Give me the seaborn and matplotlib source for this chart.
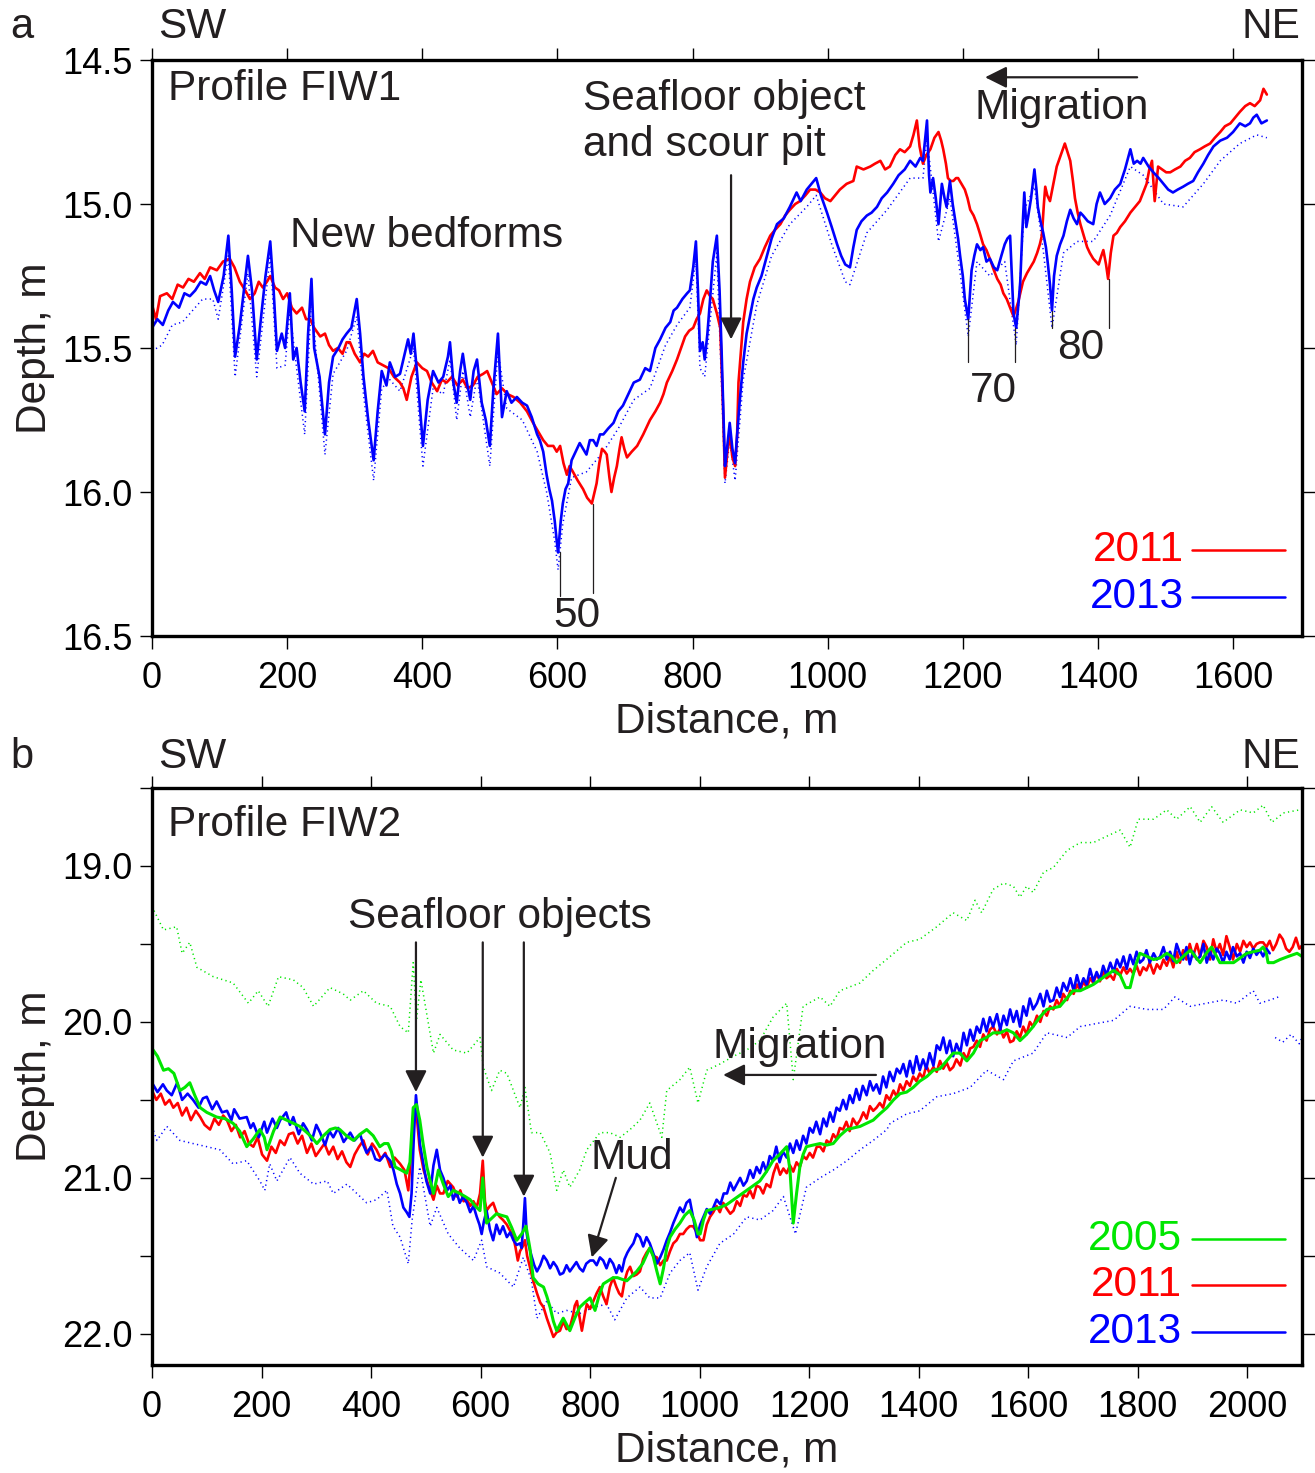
import numpy as np
import matplotlib
matplotlib.use("Agg")
import matplotlib.pyplot as plt
import seaborn as sns

# ---------------- DATA ----------------
# Panel a: Profile FIW1 (distance m, depth m)
a_2013 = [(0,15.43),(8,15.40),(16,15.42),(24,15.37),(31,15.34),(40,15.36),(48,15.31),(56,15.32),(64,15.30),(72,15.27),
 (80,15.28),(86,15.25),(92,15.30),(98,15.34),(106,15.25),(113,15.11),(118,15.30),(123,15.53),(130,15.42),(136,15.30),
 (142,15.18),(148,15.30),(155,15.54),(162,15.38),(168,15.25),(175,15.13),(180,15.30),(185,15.51),(192,15.45),(197,15.50),
 (204,15.31),(209,15.54),(214,15.50),(220,15.62),(226,15.72),(231,15.45),(236,15.26),(240,15.50),(248,15.60),(256,15.80),
 (262,15.62),(268,15.53),(276,15.50),(282,15.47),(288,15.45),(295,15.43),(303,15.33),(308,15.45),(313,15.60),(320,15.75),
 (328,15.89),(334,15.72),(340,15.58),(347,15.63),(352,15.55),(360,15.60),(367,15.59),(373,15.53),(379,15.47),(383,15.52),
 (387,15.45),(394,15.63),(401,15.84),(408,15.68),(416,15.58),(424,15.62),(431,15.60),(438,15.53),(441,15.48),(446,15.62),
 (451,15.69),(456,15.58),(460,15.52),(466,15.62),(471,15.68),(476,15.58),(481,15.54),(488,15.69),(494,15.75),(500,15.84),
 (505,15.65),(512,15.45),(518,15.74),(525,15.65),(532,15.69),(540,15.67),(548,15.69),(555,15.70),(562,15.74),(570,15.80),
 (574,15.82),(579,15.86),(584,15.94),(588,15.99),(592,16.03),(596,16.10),(599,16.17),(601,16.21),(605,16.10),(608,16.04),
 (612,15.99),(616,15.97),(621,15.89),(627,15.86),(633,15.83),(638,15.85),(643,15.87),(648,15.82),(653,15.82),(658,15.84),
 (663,15.80),(668,15.80),(675,15.78),(683,15.76),(690,15.72),(697,15.70),(705,15.66),(713,15.62),(722,15.61),(730,15.57),
 (737,15.58),(745,15.50),(752,15.47),(760,15.43),(767,15.41),(772,15.37),(777,15.36),(785,15.33),(792,15.31),(796,15.30),
 (801,15.22),(805,15.13),(808,15.30),(811,15.51),(815,15.48),(818,15.54),(822,15.45),(826,15.33),(830,15.20),(836,15.11),
 (840,15.30),(843,15.51),(846,15.75),(848,15.91),(851,15.85),(855,15.76),(859,15.85),(863,15.90),(866,15.80),(870,15.68),
 (875,15.55),(880,15.45),(885,15.39),(890,15.33),(895,15.29),(902,15.25),(910,15.18),(917,15.12),(925,15.07),(935,15.05),
 (944,15.01),(950,14.98),(954,14.96),(960,14.99),(969,14.95),(976,14.93),(983,14.91),(990,14.97),(999,15.03),(1006,15.08),
 (1014,15.14),(1020,15.18),(1026,15.21),(1033,15.22),(1038,15.15),(1043,15.09),(1050,15.06),(1058,15.04),(1065,15.03),(1073,15.01),
 (1080,14.98),(1088,14.96),(1097,14.93),(1105,14.90),(1114,14.88),(1122,14.85),(1130,14.87),(1137,14.84),(1141,14.85),(1147,14.71),
 (1150,14.90),(1152,14.96),(1156,14.91),(1160,14.98),(1164,15.07),(1169,14.93),(1173,14.98),(1176,15.01),(1181,14.92),(1185,15.00),
 (1189,15.06),(1193,15.12),(1196,15.18),(1200,15.25),(1203,15.33),(1208,15.40),(1213,15.23),(1217,15.18),(1221,15.14),(1226,15.16),
 (1230,15.15),(1235,15.20),(1240,15.19),(1246,15.22),(1251,15.23),(1257,15.18),(1262,15.14),(1266,15.12),(1270,15.11),(1275,15.38),
 (1279,15.43),(1283,15.33),(1285,15.27),(1288,15.10),(1291,14.96),(1294,15.08),(1297,15.04),(1301,14.98),(1306,14.88),(1309,14.95),
 (1311,15.01),(1315,15.06),(1319,15.10),(1323,15.15),(1326,15.21),(1329,15.28),(1332,15.37),(1335,15.25),(1339,15.18),(1344,15.14),
 (1349,15.11),(1354,15.06),(1359,15.02),(1364,15.05),(1369,15.07),(1374,15.03),(1378,15.04),(1385,15.06),(1393,15.07),(1398,15.00),
 (1403,14.96),(1410,15.00),(1418,14.98),(1425,14.95),(1433,14.93),(1440,14.88),(1448,14.81),(1453,14.86),(1458,14.85),(1463,14.86),
 (1467,14.84),(1475,14.87),(1482,14.89),(1490,14.91),(1497,14.93),(1504,14.95),(1511,14.96),(1518,14.95),(1526,14.94),(1533,14.93),
 (1541,14.92),(1548,14.89),(1556,14.86),(1563,14.83),(1571,14.80),(1581,14.78),(1591,14.77),(1600,14.75),(1610,14.72),(1618,14.73),
 (1625,14.72),(1630,14.70),(1635,14.69),(1642,14.72),(1650,14.71)]

a_2011 = [(0,15.35),(6,15.40),(12,15.32),(22,15.31),(30,15.33),(38,15.28),(46,15.29),(54,15.26),(62,15.27),(71,15.24),
 (78,15.26),(86,15.22),(96,15.23),(105,15.20),(115,15.19),(122,15.22),(130,15.27),(138,15.30),(145,15.33),(152,15.31),
 (158,15.27),(164,15.29),(170,15.27),(175,15.25),(182,15.29),(188,15.30),(194,15.33),(200,15.31),(207,15.36),(214,15.38),
 (222,15.36),(228,15.40),(234,15.40),(240,15.43),(249,15.46),(256,15.45),(262,15.49),(268,15.51),(275,15.50),(282,15.52),
 (288,15.48),(293,15.48),(300,15.52),(308,15.55),(314,15.52),(320,15.53),(327,15.51),(334,15.55),(342,15.56),(350,15.57),
 (358,15.60),(367,15.62),(372,15.64),(377,15.68),(384,15.60),(392,15.55),(400,15.57),(407,15.58),(414,15.62),(422,15.65),
 (429,15.61),(436,15.62),(444,15.60),(452,15.63),(460,15.61),(467,15.64),(475,15.63),(482,15.60),(490,15.59),(496,15.58),
 (503,15.62),(510,15.66),(518,15.64),(526,15.66),(535,15.67),(545,15.69),(555,15.72),(564,15.76),(574,15.80),(579,15.82),
 (586,15.84),(594,15.84),(599,15.86),(604,15.84),(609,15.90),(614,15.94),(618,15.91),(623,15.93),(630,15.96),(638,15.99),
 (644,16.02),(651,16.04),(655,16.00),(658,15.97),(662,15.90),(666,15.85),(670,15.86),(673,15.87),(677,15.95),(680,16.00),
 (684,15.95),(688,15.91),(692,15.85),(695,15.81),(699,15.85),(703,15.88),(710,15.86),(718,15.84),(727,15.80),(733,15.77),
 (737,15.75),(745,15.72),(752,15.69),(757,15.66),(762,15.62),(770,15.58),(777,15.54),(783,15.50),(789,15.46),(795,15.44),
 (801,15.43),(806,15.40),(811,15.38),(816,15.33),(821,15.30),(826,15.32),(830,15.33),(836,15.38),(841,15.43),(845,15.70),
 (848,15.95),(852,15.85),(855,15.80),(859,15.88),(863,15.91),(866,15.80),(868,15.62),(872,15.50),(875,15.41),(880,15.33),
 (885,15.27),(892,15.22),(900,15.19),(907,15.15),(915,15.11),(922,15.09),(930,15.07),(937,15.04),(944,15.02),(952,15.00),
 (959,14.99),(967,14.97),(974,14.95),(982,14.95),(989,14.96),(996,14.98),(1004,14.99),(1011,14.97),(1018,14.95),(1028,14.93),
 (1038,14.92),(1043,14.87),(1053,14.88),(1063,14.87),(1070,14.86),(1078,14.85),(1085,14.88),(1092,14.87),(1100,14.83),(1107,14.81),
 (1114,14.82),(1122,14.80),(1127,14.76),(1132,14.71),(1136,14.80),(1141,14.86),(1146,14.83),(1152,14.81),(1158,14.77),(1164,14.75),
 (1168,14.78),(1171,14.81),(1175,14.86),(1178,14.91),(1182,14.92),(1186,14.92),(1190,14.91),(1193,14.91),(1198,14.93),(1203,14.95),
 (1207,14.98),(1211,15.02),(1216,15.04),(1221,15.07),(1225,15.10),(1230,15.14),(1235,15.16),(1240,15.19),(1246,15.23),(1251,15.26),
 (1256,15.28),(1260,15.31),(1265,15.33),(1270,15.36),(1275,15.39),(1278,15.37),(1282,15.34),(1286,15.30),(1289,15.27),(1295,15.24),
 (1300,15.22),(1305,15.20),(1310,15.17),(1314,15.14),(1317,15.11),(1320,15.00),(1322,14.94),(1325,14.97),(1329,14.99),(1334,14.93),
 (1339,14.87),(1345,14.83),(1351,14.79),(1355,14.82),(1359,14.85),(1363,14.92),(1366,14.98),(1370,15.03),(1374,15.07),(1379,15.11),
 (1384,15.15),(1388,15.17),(1393,15.19),(1397,15.20),(1401,15.21),(1405,15.18),(1408,15.16),(1412,15.21),(1415,15.26),(1419,15.17),
 (1423,15.11),(1428,15.10),(1433,15.08),(1440,15.06),(1448,15.03),(1455,15.01),(1462,14.99),(1467,14.96),(1472,14.93),(1476,14.88),
 (1480,14.85),(1484,14.99),(1489,14.87),(1495,14.88),(1501,14.89),(1507,14.89),(1514,14.88),(1522,14.87),(1529,14.85),(1536,14.84),
 (1543,14.82),(1551,14.81),(1558,14.80),(1566,14.79),(1573,14.77),(1581,14.75),(1588,14.73),(1596,14.72),(1603,14.70),(1610,14.68),
 (1618,14.66),(1625,14.65),(1632,14.66),(1640,14.64),(1645,14.60),(1650,14.62)]

a_2013_dotted = [(0,15.51),(15,15.49),(30,15.42),(45,15.41),(60,15.37),(75,15.33),(90,15.33),(98,15.40),(113,15.18),(123,15.60),
 (142,15.24),(155,15.60),(175,15.18),(185,15.57),(197,15.56),(204,15.37),(214,15.57),(226,15.80),(236,15.33),(256,15.87),
 (268,15.59),(288,15.51),(303,15.39),(313,15.66),(328,15.96),(340,15.64),(352,15.61),(367,15.65),(387,15.50),(401,15.91),
 (416,15.64),(431,15.66),(441,15.54),(451,15.75),(460,15.58),(471,15.74),(481,15.60),(500,15.91),(512,15.51),(525,15.71),
 (548,15.75),(570,15.86),(584,16.00),(596,16.17),(601,16.27),(608,16.11),(621,15.95),(643,15.93),(668,15.86),(690,15.78),
 (713,15.68),(737,15.64),(760,15.49),(777,15.42),(796,15.36),(805,15.19),(811,15.57),(818,15.60),(836,15.17),(848,15.97),
 (855,15.82),(863,15.96),(875,15.61),(895,15.35),(917,15.18),(944,15.07),(969,15.01),(983,14.97),(1006,15.14),(1026,15.27),
 (1033,15.28),(1058,15.10),(1088,15.02),(1122,14.91),(1141,14.91),(1147,14.77),(1164,15.13),(1181,14.98),(1196,15.24),(1208,15.46),
 (1221,15.20),(1240,15.25),(1262,15.20),(1279,15.49),(1291,15.02),(1306,14.94),(1319,15.16),(1332,15.43),(1349,15.17),(1369,15.13),
 (1393,15.13),(1418,15.04),(1448,14.87),(1467,14.90),(1497,15.00),(1526,15.01),(1556,14.93),(1581,14.85),(1610,14.79),(1635,14.76),
 (1650,14.77)]

# marker ticks (distance, top depth, bottom depth) and labels
a_markers = [(604,16.21,16.36),(653,16.04,16.35),(1208,15.40,15.55),(1277,15.43,15.55),(1332,15.37,15.43),(1416,15.26,15.43)]
a_marker_labels = [("50",629,16.43),("70",1245,15.65),("80",1374,15.50)]

# Panel b: Profile FIW2
b_2013 = [(0,20.39),(10,20.45),(20,20.40),(27,20.44),(36,20.47),(46,20.39),(55,20.50),(65,20.46),(75,20.50),(85,20.55),
 (93,20.49),(100,20.48),(110,20.56),(118,20.51),(128,20.58),(137,20.57),(145,20.63),(150,20.56),(160,20.62),(173,20.61),
 (180,20.68),(185,20.65),(195,20.74),(205,20.64),(210,20.71),(220,20.62),(228,20.68),(234,20.63),(245,20.58),(252,20.66),
 (258,20.61),(268,20.72),(276,20.65),(283,20.69),(292,20.76),(300,20.66),(307,20.71),(316,20.79),(324,20.70),(331,20.74),
 (340,20.68),(350,20.77),(362,20.71),(370,20.76),(380,20.72),(386,20.79),(392,20.84),(400,20.80),(408,20.88),(416,20.89),
 (425,20.85),(435,20.89),(441,20.95),(447,21.04),(453,21.10),(459,21.19),(465,21.22),(470,21.25),(474,21.10),(478,20.75),
 (482,20.47),(486,20.62),(489,20.78),(495,20.90),(501,21.02),(508,21.10),(514,20.92),(520,20.82),(526,20.95),(532,21.00),
 (539,21.08),(545,21.05),(550,21.14),(556,21.09),(562,21.16),(568,21.12),(575,21.16),(581,21.22),(587,21.18),(593,21.25),
 (598,21.30),(602,21.36),(606,21.28),(611,21.21),(617,21.33),(623,21.40),(629,21.30),(635,21.36),(641,21.31),(648,21.38),
 (654,21.35),(660,21.40),(666,21.43),(672,21.42),(675,21.45),(678,21.30),(681,21.13),(684,21.35),(687,21.42),(693,21.50),
 (698,21.56),(703,21.60),(709,21.56),(715,21.50),(721,21.53),(727,21.58),(733,21.54),(739,21.57),(745,21.62),(751,21.61),
 (757,21.56),(763,21.60),(769,21.57),(775,21.54),(781,21.58),(787,21.60),(793,21.55),(800,21.53),(806,21.53),(812,21.56),
 (818,21.51),(824,21.53),(830,21.58),(836,21.52),(842,21.55),(848,21.61),(853,21.56),(858,21.60),(863,21.52),(868,21.48),
 (873,21.45),(879,21.42),(885,21.36),(891,21.38),(897,21.44),(903,21.38),(909,21.42),(915,21.48),(922,21.55),(928,21.51),
 (934,21.46),(940,21.40),(946,21.35),(952,21.29),(958,21.24),(964,21.19),(970,21.22),(976,21.16),(982,21.14),(988,21.25),
 (995,21.38),(1001,21.30),(1007,21.25),(1013,21.20),(1019,21.23),(1025,21.19),(1031,21.14),(1038,21.17),(1044,21.10),(1050,21.10),
 (1056,21.03),(1062,21.08),(1068,21.04),(1074,21.00),(1080,21.05),(1086,21.02),(1092,20.95),(1098,21.00),(1104,20.93),(1110,20.97),
 (1116,20.90),(1122,20.96),(1128,20.86),(1134,20.89),(1140,20.80),(1146,20.90),(1152,20.83),(1159,20.87),(1165,20.78),(1171,20.84),
 (1177,20.76),(1183,20.82),(1189,20.73),(1195,20.78),(1201,20.68),(1207,20.71),(1213,20.64),(1220,20.72),(1226,20.62),(1232,20.67),
 (1238,20.58),(1244,20.64),(1250,20.55),(1256,20.57),(1262,20.50),(1268,20.56),(1274,20.47),(1280,20.52),(1286,20.43),(1292,20.50),
 (1298,20.41),(1305,20.47),(1311,20.38),(1317,20.44),(1323,20.40),(1329,20.46),(1335,20.35),(1341,20.42),(1347,20.32),(1354,20.38),
 (1360,20.30),(1366,20.33),(1372,20.27),(1378,20.35),(1384,20.25),(1390,20.33),(1396,20.22),(1402,20.31),(1408,20.24),(1414,20.30),
 (1420,20.20),(1427,20.28),(1433,20.15),(1439,20.18),(1445,20.10),(1451,20.20),(1457,20.12),(1463,20.22),(1469,20.14),(1476,20.20),
 (1482,20.07),(1488,20.15),(1494,20.05),(1500,20.12),(1506,20.03),(1512,20.07),(1518,19.98),(1524,20.06),(1530,19.97),(1536,20.03),
 (1543,19.95),(1549,20.05),(1555,19.96),(1561,20.02),(1567,19.92),(1573,20.00),(1579,19.93),(1585,20.03),(1591,19.90),(1597,19.96),
 (1603,19.85),(1609,19.92),(1616,19.88),(1622,19.82),(1628,19.90),(1634,19.80),(1640,19.87),(1646,19.86),(1652,19.78),(1658,19.84),
 (1664,19.75),(1671,19.80),(1677,19.72),(1683,19.80),(1689,19.70),(1695,19.78),(1701,19.72),(1707,19.76),(1713,19.66),(1719,19.74),
 (1725,19.68),(1731,19.73),(1737,19.64),(1743,19.70),(1750,19.62),(1756,19.68),(1762,19.60),(1768,19.65),(1774,19.58),(1780,19.66),
 (1786,19.57),(1792,19.63),(1798,19.55),(1804,19.62),(1810,19.60),(1816,19.54),(1822,19.62),(1829,19.56),(1835,19.60),(1841,19.58),
 (1847,19.52),(1853,19.60),(1859,19.55),(1865,19.61),(1871,19.50),(1877,19.56),(1883,19.60),(1889,19.52),(1895,19.63),(1901,19.55),
 (1908,19.60),(1914,19.58),(1920,19.50),(1926,19.62),(1932,19.55),(1938,19.60),(1944,19.53),(1950,19.56),(1956,19.62),(1962,19.55),
 (1968,19.60),(1974,19.52),(1981,19.58),(1987,19.56),(1993,19.62),(1999,19.55),(2005,19.59),(2011,19.53),(2017,19.57),(2023,19.54),
 (2029,19.58),(2035,19.53),(2041,19.56)]

b_2011 = [(0,20.44),(8,20.50),(16,20.46),(24,20.53),(32,20.50),(39,20.55),(47,20.52),(55,20.60),(63,20.55),(71,20.63),
 (80,20.57),(88,20.61),(96,20.66),(106,20.69),(114,20.62),(122,20.66),(130,20.60),(137,20.63),(145,20.70),(153,20.66),
 (161,20.74),(169,20.70),(177,20.78),(185,20.80),(193,20.74),(201,20.85),(210,20.89),(218,20.80),(226,20.84),(234,20.76),
 (242,20.79),(250,20.72),(258,20.71),(266,20.78),(274,20.73),(283,20.84),(291,20.78),(299,20.86),(307,20.82),(315,20.78),
 (323,20.85),(331,20.80),(339,20.88),(347,20.83),(355,20.90),(362,20.93),(370,20.85),(378,20.80),(386,20.76),(394,20.85),
 (402,20.78),(410,20.82),(418,20.88),(426,20.84),(435,20.93),(443,20.87),(453,20.91),(461,20.95),(468,21.08),(472,20.90),
 (477,20.61),(482,20.55),(489,20.82),(496,20.95),(505,21.05),(514,21.14),(520,21.05),(526,21.10),(532,21.10),(540,21.02),
 (550,21.06),(557,21.12),(563,21.08),(569,21.15),(575,21.14),(581,21.18),(587,21.15),(593,21.19),(599,21.10),(604,20.89),
 (608,21.15),(611,21.21),(617,21.18),(623,21.16),(629,21.22),(635,21.25),(641,21.27),(648,21.30),(654,21.34),(660,21.38),
 (664,21.45),(668,21.53),(672,21.47),(677,21.44),(681,21.40),(685,21.50),(690,21.57),(696,21.66),(703,21.74),(709,21.80),
 (715,21.83),(721,21.90),(727,21.96),(733,22.02),(739,21.99),(745,21.98),(751,21.92),(757,21.97),(763,21.96),(769,21.88),
 (772,21.82),(776,21.79),(781,21.90),(785,21.98),(790,21.88),(794,21.81),(800,21.84),(806,21.79),(812,21.74),(818,21.70),
 (824,21.76),(830,21.81),(836,21.70),(842,21.64),(848,21.70),(853,21.74),(858,21.76),(863,21.66),(868,21.60),(873,21.57),
 (879,21.63),(885,21.62),(891,21.60),(897,21.52),(903,21.48),(909,21.45),(915,21.50),(922,21.51),(928,21.56),(934,21.53),
 (940,21.53),(946,21.47),(952,21.42),(958,21.40),(964,21.36),(970,21.36),(976,21.33),(982,21.31),(988,21.31),(995,21.35),
 (1001,21.40),(1007,21.40),(1013,21.30),(1019,21.25),(1025,21.22),(1031,21.18),(1037,21.22),(1043,21.16),(1050,21.20),(1056,21.23),
 (1062,21.21),(1068,21.15),(1074,21.18),(1080,21.11),(1086,21.12),(1092,21.08),(1098,21.13),(1104,21.05),(1110,21.06),(1116,21.10),
 (1122,21.04),(1129,21.06),(1135,20.97),(1141,20.91),(1147,20.98),(1153,20.94),(1159,20.97),(1165,20.92),(1171,20.96),(1177,20.90),
 (1183,20.93),(1189,20.86),(1195,20.88),(1201,20.84),(1207,20.87),(1214,20.80),(1220,20.80),(1226,20.83),(1232,20.76),(1238,20.78),
 (1244,20.72),(1250,20.75),(1256,20.68),(1262,20.69),(1268,20.64),(1274,20.70),(1280,20.62),(1287,20.66),(1293,20.63),(1299,20.58),
 (1305,20.62),(1311,20.54),(1317,20.57),(1323,20.55),(1329,20.52),(1335,20.55),(1341,20.47),(1347,20.50),(1354,20.44),(1360,20.48),
 (1366,20.40),(1372,20.44),(1378,20.38),(1384,20.41),(1390,20.35),(1396,20.38),(1402,20.33),(1408,20.36),(1414,20.28),(1420,20.33),
 (1427,20.29),(1433,20.32),(1439,20.25),(1445,20.30),(1451,20.26),(1457,20.31),(1463,20.29),(1469,20.24),(1476,20.28),(1482,20.20),
 (1488,20.24),(1494,20.17),(1500,20.16),(1506,20.12),(1512,20.16),(1518,20.08),(1524,20.12),(1530,20.05),(1536,20.03),(1543,20.08),
 (1549,20.04),(1555,20.10),(1561,20.06),(1567,20.13),(1573,20.12),(1579,20.06),(1585,20.10),(1591,20.03),(1597,20.08),(1603,20.00),
 (1609,20.03),(1616,19.96),(1622,20.00),(1628,19.93),(1634,19.96),(1640,19.90),(1646,19.92),(1652,19.86),(1658,19.90),(1664,19.82),
 (1671,19.86),(1677,19.80),(1683,19.82),(1689,19.76),(1695,19.80),(1701,19.74),(1707,19.78),(1713,19.72),(1719,19.75),(1725,19.69),
 (1731,19.74),(1737,19.68),(1743,19.72),(1750,19.70),(1756,19.73),(1762,19.66),(1768,19.70),(1774,19.65),(1780,19.69),(1786,19.66),
 (1792,19.69),(1798,19.64),(1804,19.70),(1810,19.65),(1816,19.67),(1822,19.62),(1829,19.69),(1835,19.63),(1841,19.66),(1847,19.60),
 (1853,19.64),(1859,19.58),(1865,19.65),(1871,19.55),(1877,19.62),(1883,19.54),(1889,19.60),(1895,19.50),(1901,19.58),(1908,19.50),
 (1914,19.58),(1920,19.48),(1926,19.52),(1932,19.60),(1938,19.47),(1944,19.55),(1950,19.50),(1956,19.57),(1962,19.45),(1968,19.52),
 (1974,19.60),(1981,19.50),(1987,19.55),(1993,19.48),(1999,19.52),(2005,19.49),(2011,19.53),(2017,19.50),(2023,19.49),(2029,19.49),
 (2035,19.52),(2041,19.48),(2047,19.54),(2053,19.50),(2059,19.44),(2065,19.47),(2071,19.53),(2077,19.55),(2083,19.52),(2089,19.46),
 (2095,19.53),(2100,19.51)]

b_2005 = [(0,20.17),(10,20.22),(21,20.31),(30,20.30),(40,20.33),(51,20.44),(60,20.42),(69,20.39),(78,20.47),(88,20.55),
 (100,20.58),(118,20.61),(133,20.62),(148,20.65),(160,20.70),(173,20.80),(185,20.75),(197,20.69),(205,20.74),(210,20.82),
 (222,20.70),(234,20.61),(246,20.63),(258,20.65),(270,20.67),(283,20.71),(292,20.74),(301,20.78),(313,20.73),(325,20.69),
 (335,20.68),(343,20.69),(355,20.73),(368,20.76),(380,20.72),(392,20.69),(404,20.73),(416,20.80),(424,20.78),(431,20.78),
 (437,20.83),(444,20.93),(455,20.95),(465,20.97),(471,20.90),(477,20.55),(483,20.53),(489,20.63),(495,20.78),(502,20.93),
 (508,21.02),(514,21.10),(519,21.02),(523,20.95),(532,21.04),(541,21.12),(550,21.08),(562,21.10),(572,21.12),(581,21.14),
 (590,21.18),(599,21.21),(604,21.00),(608,21.20),(611,21.29),(620,21.26),(629,21.23),(638,21.24),(648,21.25),(657,21.32),
 (666,21.40),(675,21.36),(683,21.31),(690,21.45),(696,21.64),(705,21.68),(715,21.70),(721,21.76),(727,21.83),(733,21.92),
 (739,21.98),(745,21.94),(751,21.90),(757,21.94),(763,21.98),(772,21.90),(781,21.83),(790,21.80),(800,21.77),(809,21.85),
 (816,21.76),(824,21.68),(833,21.66),(842,21.64),(850,21.64),(858,21.65),(867,21.66),(876,21.63),(885,21.60),(896,21.55),
 (905,21.48),(909,21.45),(915,21.50),(922,21.60),(928,21.68),(934,21.58),(940,21.45),(946,21.38),(955,21.33),(964,21.29),
 (973,21.24),(982,21.21),(990,21.27),(997,21.36),(1001,21.36),(1007,21.27),(1013,21.21),(1025,21.20),(1037,21.19),(1050,21.17),
 (1062,21.14),(1074,21.11),(1086,21.08),(1098,21.05),(1110,21.02),(1122,20.96),(1134,20.89),(1146,20.85),(1159,20.80),(1165,20.95),
 (1171,21.29),(1177,21.10),(1183,20.93),(1189,20.85),(1195,20.80),(1207,20.79),(1220,20.78),(1232,20.79),(1244,20.78),(1256,20.73),
 (1269,20.69),(1281,20.68),(1293,20.67),(1305,20.65),(1317,20.63),(1329,20.59),(1342,20.55),(1354,20.50),(1366,20.46),(1378,20.45),
 (1390,20.42),(1402,20.38),(1415,20.35),(1427,20.31),(1439,20.30),(1451,20.25),(1463,20.20),(1475,20.20),(1488,20.25),(1500,20.20),
 (1512,20.12),(1524,20.10),(1536,20.07),(1549,20.07),(1561,20.05),(1573,20.07),(1585,20.12),(1597,20.08),(1609,20.03),(1621,19.97),
 (1634,19.92),(1646,19.91),(1658,19.90),(1670,19.85),(1682,19.80),(1695,19.80),(1707,19.78),(1719,19.76),(1731,19.73),(1743,19.70),
 (1756,19.67),(1768,19.70),(1778,19.78),(1786,19.78),(1795,19.65),(1804,19.56),(1817,19.58),(1829,19.60),(1841,19.59),(1853,19.56),
 (1862,19.58),(1871,19.62),(1883,19.58),(1896,19.54),(1905,19.58),(1914,19.62),(1925,19.56),(1935,19.52),(1944,19.58),(1950,19.62),
 (1962,19.62),(1975,19.62),(1987,19.59),(1999,19.56),(2011,19.55),(2023,19.54),(2029,19.52),(2035,19.56),(2038,19.62),(2048,19.62),
 (2060,19.60),(2075,19.58),(2091,19.56),(2100,19.58)]

b_2005_dotted = [(0,19.26),(21,19.41),(45,19.39),(55,19.56),(69,19.49),(82,19.65),(112,19.71),(148,19.75),(176,19.88),(194,19.80),
 (212,19.90),(231,19.71),(258,19.73),(276,19.78),(295,19.90),(325,19.78),(349,19.82),(362,19.86),(386,19.80),(410,19.88),
 (435,19.90),(453,20.03),(468,20.07),(477,19.62),(483,19.99),(491,19.73),(514,20.20),(526,20.08),(550,20.18),(575,20.20),
 (599,20.10),(605,20.29),(620,20.44),(635,20.31),(648,20.33),(672,20.55),(681,20.42),(693,20.71),(709,20.71),(727,20.84),
 (739,21.08),(751,20.95),(763,21.06),(781,20.95),(794,20.82),(818,20.71),(836,20.71),(855,20.74),(873,20.69),(891,20.63),
 (909,20.52),(922,20.65),(931,20.74),(940,20.44),(964,20.37),(982,20.29),(997,20.52),(1013,20.31),(1037,20.27),(1062,20.22),
 (1086,20.18),(1110,20.12),(1134,19.97),(1159,19.88),(1171,20.37),(1189,19.90),(1220,19.84),(1238,19.90),(1256,19.80),(1293,19.75),
 (1317,19.67),(1348,19.58),(1378,19.49),(1402,19.47),(1433,19.39),(1463,19.30),(1488,19.35),(1503,19.22),(1515,19.30),(1536,19.15),
 (1555,19.11),(1573,19.13),(1585,19.20),(1597,19.13),(1609,19.17),(1628,19.04),(1646,19.01),(1671,18.90),(1695,18.85),(1719,18.85),
 (1743,18.81),(1768,18.77),(1786,18.88),(1801,18.70),(1829,18.70),(1853,18.64),(1871,18.70),(1896,18.62),(1914,18.72),(1935,18.62),
 (1956,18.72),(1987,18.64),(2011,18.66),(2029,18.61),(2045,18.72),(2066,18.66),(2096,18.64)]

b_2013_dotted = [(0,20.67),(9,20.76),(27,20.67),(51,20.76),(75,20.78),(100,20.80),(124,20.82),(148,20.91),(173,20.89),(197,21.02),
 (206,21.08),(215,20.91),(228,21.02),(252,20.87),(270,20.97),(295,21.04),(320,21.02),(331,21.10),(356,21.04),(380,21.12),
 (392,21.16),(410,21.14),(429,21.08),(440,21.31),(453,21.38),(468,21.55),(475,21.27),(489,20.93),(508,21.31),(520,21.19),
 (541,21.36),(562,21.45),(587,21.53),(602,21.40),(611,21.57),(635,21.61),(660,21.70),(678,21.51),(693,21.66),(703,21.90),
 (721,21.79),(739,21.87),(757,21.85),(781,21.87),(806,21.83),(830,21.81),(845,21.91),(867,21.77),(891,21.70),(909,21.77),
 (928,21.77),(946,21.61),(964,21.53),(982,21.48),(997,21.72),(1013,21.57),(1037,21.42),(1062,21.36),(1086,21.25),(1110,21.27),
 (1134,21.21),(1153,21.12),(1175,21.36),(1195,21.06),(1220,21.00),(1244,20.95),(1269,20.89),(1293,20.82),(1317,20.76),(1342,20.69),
 (1348,20.65),(1378,20.59),(1402,20.57),(1433,20.48),(1463,20.46),(1494,20.42),(1524,20.31),(1555,20.37),(1573,20.25),(1609,20.20),
 (1634,20.07),(1671,20.10),(1695,20.03),(1725,20.01),(1756,19.99),(1786,19.90),(1817,19.92),(1847,19.92),(1868,19.84),(1896,19.90),
 (1926,19.88),(1956,19.86),(1981,19.88),(2011,19.80),(2023,19.88),(2041,19.86),(2057,19.84)]
b_2013_dotted_end = [(2051,20.10),(2065,20.13),(2080,20.08),(2095,20.14),(2100,20.10)]

years_a = ["2011", "2013"]
years_b = ["2005", "2011", "2013"]

# ---------------- STYLE ----------------
sns.set_style("ticks")
plt.rcParams["font.family"] = ["Liberation Sans", "DejaVu Sans"]
plt.rcParams["axes.linewidth"] = 2.4

RED = "#ff0000"
BLUE = "#0000ff"
GREEN = "#00e600"
DARK = "#231f20"

FS = 30.5      # annotation font size
FS_TICK = 26

W, H = 1315, 1473
fig = plt.figure(figsize=(W / 100, H / 100), dpi=100)
ax_a = fig.add_axes([152 / W, 1 - 636 / H, 1150 / W, 576 / H])
ax_b = fig.add_axes([152 / W, 1 - 1365 / H, 1150 / W, 577 / H])


def unz(pairs):
    x, y = zip(*pairs)
    return np.array(x, float), np.array(y, float)


def draw(ax, pairs, color, lw, ls="-"):
    x, y = unz(pairs)
    sns.lineplot(x=x, y=y, ax=ax, color=color, lw=lw, linestyle=ls,
                 estimator=None, sort=False, legend=False)


DOT = (0, (0.8, 2.2))

# Panel a
draw(ax_a, a_2013_dotted, BLUE, 1.1, DOT)
draw(ax_a, a_2011, RED, 1.9)
draw(ax_a, a_2013, BLUE, 1.9)

# Panel b
draw(ax_b, b_2005_dotted, GREEN, 1.1, DOT)
draw(ax_b, b_2013_dotted, BLUE, 1.1, DOT)
draw(ax_b, b_2013_dotted_end, BLUE, 1.1, DOT)
draw(ax_b, b_2011, RED, 1.9)
draw(ax_b, b_2013, BLUE, 1.9)
draw(ax_b, b_2005, GREEN, 2.2)

# Axes formatting
for ax, xmax, xt in [(ax_a, 1702, np.arange(0, 1601, 200)), (ax_b, 2100, np.arange(0, 2001, 200))]:
    ax.set_xlim(0, xmax)
    ax.set_xticks(xt)
    ax.set_xticklabels([str(v) for v in xt])
    ax.tick_params(axis="both", direction="out", length=9, width=1.0, colors="black",
                   labelsize=FS_TICK, top=True, right=True, labeltop=False, labelright=False)
    ax.tick_params(axis="x", pad=9)
    ax.tick_params(axis="y", pad=5)
    for s in ax.spines.values():
        s.set_visible(True)
        s.set_linewidth(2.4)
        s.set_color("black")
    ax.set_xlabel("Distance, m", fontsize=FS, color=DARK, va="center")
    ax.set_ylabel("Depth, m", fontsize=FS, color=DARK, va="center")
    ax.xaxis.set_label_coords(0.5, -0.149)
    ax.yaxis.set_label_coords(-0.102, 0.5)
    ax.grid(False)

ax_a.set_ylim(16.5, 14.5)
ya = [14.5, 15.0, 15.5, 16.0, 16.5]
ax_a.set_yticks(ya)
ax_a.set_yticklabels([f"{v:.1f}" for v in ya])

ax_b.set_ylim(22.2, 18.5)
yb = np.arange(18.5, 22.01, 0.5)
ax_b.set_yticks(yb)
ax_b.set_yticklabels([f"{v:.1f}" if abs(v - round(v)) < 1e-6 else "" for v in yb])

TXT = dict(fontsize=FS, color=DARK)
ARW = dict(arrowstyle="-|>,head_length=0.6,head_width=0.3", lw=1.6,
           color=DARK, shrinkA=0, shrinkB=0, mutation_scale=22)

# ---- panel a annotations ----
ax_a.text(24, 14.60, "Profile FIW1", ha="left", va="center", **TXT)
ax_a.text(638, 14.715, "Seafloor object\nand scour pit", ha="left", va="center", linespacing=1.22, **TXT)
ax_a.annotate("", xy=(857, 15.47), xytext=(857, 14.90), arrowprops=ARW)
ax_a.text(204, 15.11, "New bedforms", ha="left", va="center", **TXT)
ax_a.text(1218, 14.665, "Migration", ha="left", va="center", **TXT)
ax_a.annotate("", xy=(1233, 14.56), xytext=(1458, 14.56), arrowprops=ARW)
for xm, y0, y1 in a_markers:
    ax_a.plot([xm, xm], [y0, y1], color=DARK, lw=0.9)
for lab, xm, ym in a_marker_labels:
    ax_a.text(xm, ym, lab, ha="center", va="center", **TXT)

# legend a
leg_cols_a = [RED, BLUE]
for i, (yr, c) in enumerate(zip(years_a, leg_cols_a)):
    yy = [16.20, 16.366][i]
    ax_a.text(1527, yy, yr, ha="right", va="center", fontsize=FS, color=c)
    ax_a.plot([1539, 1677], [yy, yy], color=c, lw=1.8)

# ---- panel b annotations ----
ax_b.text(29, 18.74, "Profile FIW2", ha="left", va="center", **TXT)
ax_b.text(358, 19.33, "Seafloor objects", ha="left", va="center", **TXT)
for xm, tip in [(482, 20.45), (604, 20.87), (679, 21.12)]:
    ax_b.annotate("", xy=(xm, tip), xytext=(xm, 19.49), arrowprops=ARW)
ax_b.text(1024, 20.16, "Migration", ha="left", va="center", **TXT)
ax_b.annotate("", xy=(1043, 20.34), xytext=(1322, 20.34), arrowprops=ARW)
ax_b.text(800, 20.87, "Mud", ha="left", va="center", **TXT)
ax_b.annotate("", xy=(803, 21.51), xytext=(847, 21.00), arrowprops=ARW)

leg_cols_b = [GREEN, RED, BLUE]
for i, (yr, c) in enumerate(zip(years_b, leg_cols_b)):
    yy = [21.39, 21.69, 21.99][i]
    ax_b.text(1881, yy, yr, ha="right", va="center", fontsize=FS, color=c)
    ax_b.plot([1899, 2069], [yy, yy], color=c, lw=1.8)

# ---- figure-level labels ----
for ytop, letter in [(27, "a"), (757, "b")]:
    fig.text(10 / W, 1 - ytop / H, letter, ha="left", va="center", fontsize=30, color=DARK)
    fig.text(158 / W, 1 - ytop / H, "SW", ha="left", va="center", fontsize=FS, color=DARK)
    fig.text(1300 / W, 1 - ytop / H, "NE", ha="right", va="center", fontsize=FS, color=DARK)

fig.savefig("out.png", dpi=100)
